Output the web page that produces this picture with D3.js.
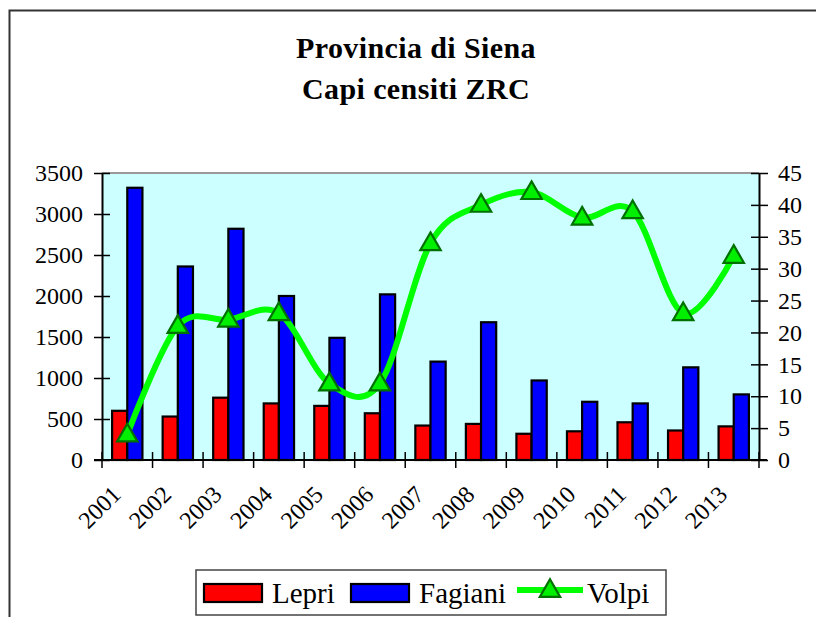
<!DOCTYPE html>
<html><head><meta charset="utf-8">
<script src="https://cdn.jsdelivr.net/npm/d3@7"></script>
<style>
body{margin:0;background:#fff}
svg{display:block}
svg text{font-family:"Liberation Serif","Tinos","DejaVu Serif","Times New Roman",Times,serif !important;fill:#000}
</style>
</head><body>
<svg id="c" width="816" height="617"></svg>
<script>
// ---- data ----
const years = ["2001","2002","2003","2004","2005","2006","2007","2008","2009","2010","2011","2012","2013"];
const lepri = [600,530,760,690,660,570,420,440,320,350,460,360,410];
const fagiani = [3320,2360,2820,2000,1490,2020,1200,1680,970,710,690,1130,800];
const volpi = [4,21,22,23,12,12,34,40,42,38,39,23,32];
const leftTicks = [0,500,1000,1500,2000,2500,3000,3500];
const rightTicks = [0,5,10,15,20,25,30,35,40,45];
const titleLines = ["Provincia di Siena","Capi censiti ZRC"];
const seriesNames = ["Lepri","Fagiani","Volpi"];
const barColors = {Lepri:"#ff0000", Fagiani:"#0000ff"};

// ---- layout ----
const L = 102, R = 759, T = 173, B = 460;
const svg = d3.select("#c");

// frame
svg.append("rect").attr("x",9.5).attr("y",10.5).attr("width",900).attr("height",700)
  .attr("fill","#fff").attr("stroke","#333").attr("stroke-width",2);

// title
const title = svg.append("text").attr("text-anchor","middle")
  .attr("font-weight","bold").attr("font-size",30).attr("letter-spacing",0.4);
titleLines.forEach((t,i)=>{
  title.append("tspan").attr("x",416).attr("y",58 + i*41).text(t);
});

// scales
const x = d3.scaleBand().domain(years).range([L,R]).padding(0);
const yL = d3.scaleLinear().domain([0,3500]).range([B,T]);
const yR = d3.scaleLinear().domain([0,45]).range([B,T]);
const groupW = x.bandwidth()*0.6;
const x1 = d3.scaleBand().domain(["Lepri","Fagiani"]).range([-groupW/2, groupW/2]).padding(0);

// plot background
svg.append("rect").attr("x",L).attr("y",T).attr("width",R-L).attr("height",B-T)
  .attr("fill","#ccffff");
svg.append("line").attr("x1",L).attr("x2",R).attr("y1",T).attr("y2",T)
  .attr("stroke","#999").attr("stroke-width",2);

// bars
const rows = years.map((y,i)=>({year:y, Lepri:lepri[i], Fagiani:fagiani[i], Volpi:volpi[i]}));
const gBars = svg.append("g");
["Lepri","Fagiani"].forEach(s=>{
  gBars.selectAll("rect."+s).data(rows).enter().append("rect")
    .attr("class",s)
    .attr("x",d=>x(d.year)+x.bandwidth()/2 + x1(s))
    .attr("width",x1.bandwidth())
    .attr("y",d=>yL(d[s]))
    .attr("height",d=>B - yL(d[s]))
    .attr("fill",barColors[s]).attr("stroke","#000").attr("stroke-width",2.2);
});

// left axis
const axL = svg.append("g").attr("transform",`translate(${L},0)`)
  .call(d3.axisLeft(yL).tickValues(leftTicks).tickFormat(d3.format("d"))
    .tickSize(8).tickSizeOuter(0).tickPadding(11));
axL.attr("font-size",24);
axL.selectAll(".tick line").attr("x1",8).attr("stroke","#000").attr("stroke-width",1.5);
axL.select(".domain").attr("stroke","#000").attr("stroke-width",2);

// right axis
const axR = svg.append("g").attr("transform",`translate(${R},0)`)
  .call(d3.axisRight(yR).tickValues(rightTicks).tickFormat(d3.format("d"))
    .tickSize(9).tickSizeOuter(0).tickPadding(10));
axR.attr("font-size",24);
axR.selectAll(".tick line").attr("x1",-8).attr("stroke","#000").attr("stroke-width",1.5);
axR.select(".domain").attr("stroke","#000").attr("stroke-width",2);

// x axis
const gx = svg.append("g");
gx.append("line").attr("x1",L-8).attr("x2",R+8).attr("y1",B).attr("y2",B)
  .attr("stroke","#000").attr("stroke-width",2);
const bounds = years.map(y=>x(y)).concat([x(years[years.length-1])+x.bandwidth()]);
gx.selectAll("line.tk").data(bounds).enter().append("line").attr("class","tk")
  .attr("x1",d=>d).attr("x2",d=>d).attr("y1",B-8).attr("y2",B+8)
  .attr("stroke","#000").attr("stroke-width",1.5);
gx.selectAll("text").data(years).enter().append("text")
  .attr("text-anchor","end").attr("font-size",24)
  .attr("transform",d=>`translate(${x(d)+x.bandwidth()/2-11},${B+30}) rotate(-45)`)
  .attr("dy","0.35em").text(d=>d);

// volpi line
const line = d3.line().x(d=>x(d.year)+x.bandwidth()/2).y(d=>yR(d.Volpi))
  .curve(d3.curveCardinal.tension(0));
svg.append("path").datum(rows).attr("d",line).attr("fill","none")
  .attr("stroke","#00ff00").attr("stroke-width",6).attr("stroke-linejoin","round");
const tri = d3.symbol(d3.symbolTriangle,180);
svg.selectAll("path.mk").data(rows).enter().append("path").attr("class","mk")
  .attr("d",tri)
  .attr("transform",d=>`translate(${x(d.year)+x.bandwidth()/2},${yR(d.Volpi)+1})`)
  .attr("fill","#00ee00").attr("stroke","#007000").attr("stroke-width",2.2);

// legend
const lg = svg.append("g");
lg.append("rect").attr("x",196).attr("y",570).attr("width",470).attr("height",45)
  .attr("fill","#fff").attr("stroke","#444").attr("stroke-width",1.5);
const swX = [204,351,517], txX = [272,419,587];
seriesNames.forEach((s,i)=>{
  if (s !== "Volpi") {
    lg.append("rect").attr("x",swX[i]).attr("y",584).attr("width",58).attr("height",18)
      .attr("fill",barColors[s]).attr("stroke","#000").attr("stroke-width",2.2);
  } else {
    lg.append("line").attr("x1",swX[i]).attr("x2",swX[i]+66).attr("y1",590).attr("y2",590)
      .attr("stroke","#00ff00").attr("stroke-width",6);
    lg.append("path").attr("d",tri).attr("transform",`translate(${swX[i]+33},591)`)
      .attr("fill","#00ee00").attr("stroke","#007000").attr("stroke-width",2.2);
  }
  lg.append("text").attr("x",txX[i]).attr("y",603).attr("font-size",29).text(s);
});
</script>
</body></html>
